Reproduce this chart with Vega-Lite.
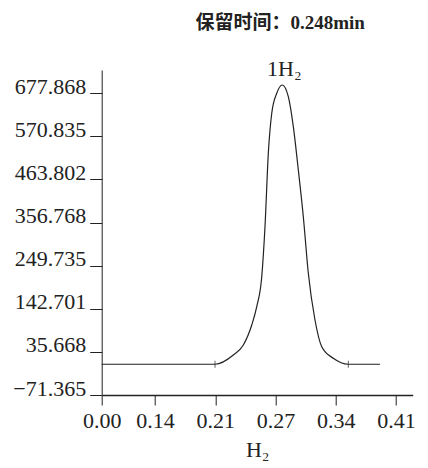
{
  "$schema": "https://vega.github.io/schema/vega-lite/v6.json",
  "autosize": "none",
  "width": 311,
  "height": 325,
  "padding": {"left": 101.7, "top": 70, "right": 15.3, "bottom": 73},
  "background": "white",
  "view": {"stroke": null},
  "config": {
    "font": "Liberation Serif",
    "axis": {"domainColor": "#222", "tickColor": "#222", "labelColor": "#222", "titleColor": "#222", "grid": false, "labelFont": "Liberation Serif", "titleFont": "Liberation Serif", "titleFontWeight": "normal"}
  },
  "title": {"text": "保留时间：0.248min", "anchor": "middle", "dx": 23, "offset": 25, "fontSize": 19, "font": "Liberation Serif, Noto Sans CJK SC", "fontWeight": "bold", "color": "#222"},
  "datasets": {
    "signal": [
      {"t": 0.0, "v": 5},
      {"t": 0.2058, "v": 5},
      {"t": 0.2267, "v": 28.0},
      {"t": 0.2381, "v": 52.8},
      {"t": 0.2477, "v": 102.5},
      {"t": 0.2534, "v": 147.9},
      {"t": 0.2591, "v": 222.4},
      {"t": 0.2628, "v": 346.6},
      {"t": 0.2666, "v": 528.9},
      {"t": 0.2705, "v": 628.2},
      {"t": 0.2762, "v": 677.9},
      {"t": 0.2825, "v": 698.5},
      {"t": 0.2894, "v": 669.4},
      {"t": 0.2951, "v": 594.9},
      {"t": 0.3008, "v": 487.4},
      {"t": 0.3065, "v": 371.4},
      {"t": 0.3122, "v": 230.9},
      {"t": 0.3198, "v": 114.9},
      {"t": 0.3275, "v": 48.6},
      {"t": 0.3407, "v": 19.8},
      {"t": 0.3578, "v": 5},
      {"t": 0.394, "v": 5}
    ],
    "markers": [
      {"t": 0.2058, "v": 5},
      {"t": 0.3578, "v": 5}
    ],
    "peak": [
      {"t": 0.2825, "v": 698.5, "label": "1H₂"}
    ]
  },
  "encoding": {
    "x": {
      "field": "t", "type": "quantitative",
      "scale": {"domain": [0, 0.1374, 0.4312], "range": [0, 53.3, 311], "nice": false, "zero": false},
      "axis": {
        "title": "H₂", "titleFontSize": 22, "titlePadding": 8,
        "values": [0, 0.1374, 0.2061, 0.2748, 0.3435, 0.4122], "format": ".2f",
        "labelFontSize": 22, "tickSize": 10, "labelPadding": 5, "domainWidth": 1.3, "labelFlush": false
      }
    },
    "y": {
      "field": "v", "type": "quantitative",
      "scale": {"domain": [-71.365, 735.7], "nice": false, "zero": false},
      "axis": {
        "title": null,
        "values": [-71.365, 35.668, 142.701, 249.735, 356.768, 463.802, 570.835, 677.868], "format": ".3f",
        "labelFontSize": 22, "tickSize": 12, "labelPadding": 4, "labelBaseline": "alphabetic", "labelFlush": false
      }
    }
  },
  "layer": [
    {"data": {"name": "signal"}, "mark": {"type": "line", "color": "#222", "strokeWidth": 1.2, "interpolate": "monotone"}},
    {"data": {"name": "markers"}, "mark": {"type": "tick", "orient": "vertical", "size": 7, "thickness": 1, "color": "#222"}},
    {"data": {"name": "peak"}, "mark": {"type": "text", "fontSize": 22, "baseline": "bottom", "dy": -4, "dx": 2, "color": "#222", "font": "Liberation Serif"}, "encoding": {"text": {"field": "label"}}}
  ]
}
